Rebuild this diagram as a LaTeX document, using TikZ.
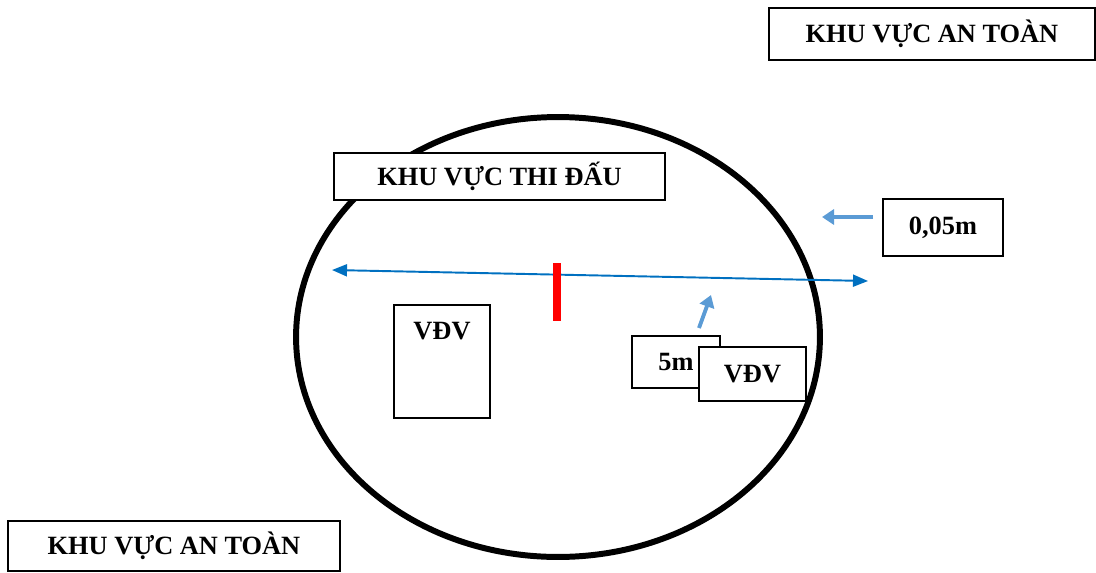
\documentclass[tikz,border=0pt]{standalone}
\usepackage{fontspec}
\setmainfont{Liberation Serif}
\usetikzlibrary{arrows.meta}
\usetikzlibrary{positioning}
\definecolor{lineblue}{HTML}{0070C0}
\definecolor{paleblue}{HTML}{5B9BD5}

\begin{document}
\begin{tikzpicture}[x=0.02cm,y=-0.02cm,
    box/.style={draw,line width=1pt,fill=white,inner sep=0pt,font=\fontsize{15}{18}\selectfont\bfseries},
    lbl/.style={inner sep=0pt,font=\fontsize{15}{18}\selectfont\bfseries},
    span/.style={lineblue,line width=1.1pt,{Triangle[length=0.3cm,width=0.24cm]}-{Triangle[length=0.3cm,width=0.24cm]}},
    hint/.style={paleblue,line width=2.2pt,-{Triangle[length=0.24cm,width=0.3cm]}}]
        \useasboundingbox (0,0) rectangle (1096,572);
        % vung an toan
        \node[box,minimum width=6.52cm,minimum height=1.04cm] (safetop) at (932,34) {KHU VỰC AN TOÀN};
        \node[box,minimum width=6.64cm,minimum height=1cm] (safebot) at (174,546) {KHU VỰC AN TOÀN};
        % san thi dau
        \draw[line width=3.4pt] (558,337) ellipse [x radius=5.24cm, y radius=4.4cm];
        \node[box,minimum width=6.62cm,minimum height=0.94cm] (arena) at (499.5,176.5) {KHU VỰC THI ĐẤU};
        \node[box,minimum width=2.4cm,minimum height=1.14cm] (gap) at (943,227.5) {0,05m};
        \coordinate (gapfrom) at (873,217);
        \coordinate (gapto) at (822,217);
        \draw[hint] (gapfrom) to (gapto);
        \coordinate (spanl) at (332,270);
        \coordinate (spanr) at (868,281);
        \draw[span] (spanl) to (spanr);
        \coordinate (bartop) at (557,263);
        \coordinate (barbot) at (557,321);
        \draw[red,line width=0.16cm] (bartop) to (barbot);
        % van dong vien
        \node[box,minimum width=1.92cm,minimum height=2.26cm] (vdvl) at (442,361.5) {};
        \node[lbl] (vdvltext) [below=0.35cm of vdvl.north] {VĐV};
        \node[box,minimum width=1.76cm,minimum height=1.04cm] (dist) at (676,362) {5m};
        \node[box,minimum width=2.14cm,minimum height=1.08cm] (vdvr) at (752.5,374) {VĐV};
        \coordinate (distfrom) at (699,328);
        \coordinate (distto) at (711,295);
        \draw[hint] (distfrom) to (distto);
      \end{tikzpicture}
\end{document}
